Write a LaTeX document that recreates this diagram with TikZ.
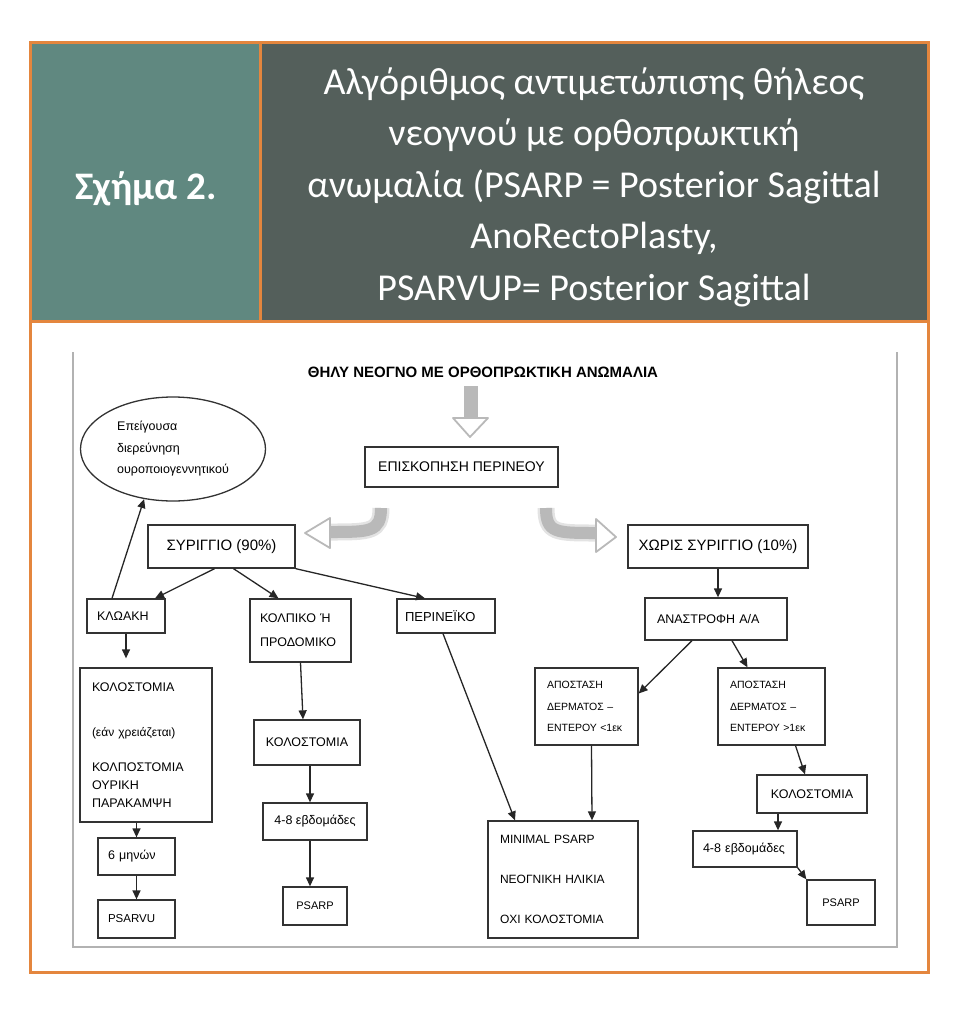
\documentclass[tikz,border=0pt]{standalone}
\usepackage{fontspec}
\setmainfont{Carlito}
\newfontfamily\diagfont{Liberation Sans}
\usetikzlibrary{arrows.meta,shapes.geometric}
\definecolor{frameorange}{RGB}{228,134,62}
\definecolor{tealcell}{RGB}{96,136,128}
\definecolor{slatecell}{RGB}{84,95,91}
\tikzset{
    box/.style={draw=black!80, line width=1.3pt, inner ysep=0pt, font=\diagfont\fontsize{12.5}{16}\selectfont},
    lbox/.style={box, align=left, inner xsep=10pt},
    cbox/.style={box, align=center, inner xsep=4pt},
    fsbig/.style={font=\diagfont\fontsize{15}{18}\selectfont},
    fssmall/.style={font=\diagfont\fontsize{10.5}{21.5}\selectfont},
    arr/.style={-{Triangle[length=9pt,width=8pt]}, line width=1.3pt, draw=black!85},
    bandback/.style={line width=17pt, draw=gray!22},
    band/.style={line width=12pt, draw=gray!55},
    headopen/.style={draw=gray!55, line width=1.8pt, fill=white, line join=round},
}
\begin{document}
\begin{tikzpicture}[x=1pt, y=-1pt]
    \useasboundingbox (0,0) rectangle (971,1012);
    % header
    \fill[tealcell] (30,42) rectangle (260,321);
    \fill[slatecell] (260,42) rectangle (928,321);
    \draw[frameorange, line width=3pt] (30,42) rectangle (928,972);
    \draw[frameorange, line width=3pt] (30,321) -- (928,321) (260,42) -- (260,321);
    \node[white, font=\bfseries\fontsize{39}{46}\selectfont] (fig) at (146,189) {Σχήμα 2.};
    \node[white, align=center, font=\fontsize{38}{51.5}\selectfont] (caption) at (594,187)
        {Αλγόριθμος αντιμετώπισης θήλεος\\νεογνού με ορθοπρωκτική\\ανωμαλία (PSARP = Posterior Sagittal\\AnoRectoPlasty,\\PSARVUP= Posterior Sagittal};
    % diagram frame
    \draw[gray!60, line width=2pt] (73,352) -- (73,947) -- (897,947) -- (897,352);
    \node[font=\diagfont\bfseries\fontsize{15}{18}\selectfont] (title) at (483,372) {ΘΗΛΥ ΝΕΟΓΝΟ ΜΕ ΟΡΘΟΠΡΩΚΤΙΚΗ ΑΝΩΜΑΛΙΑ};
    \node[cbox, font=\diagfont\fontsize{14}{17}\selectfont, minimum width=193pt, minimum height=40pt] (episk) at (461.5,467) {ΕΠΙΣΚΟΠΗΣΗ ΠΕΡΙΝΕΟΥ};
    \node[ellipse, draw=black!80, line width=1.3pt, minimum width=185pt, minimum height=104pt, inner sep=0pt, align=left,
        font=\diagfont\fontsize{12.5}{21.5}\selectfont] (ell) at (173,449) {Επείγουσα\\διερεύνηση\\ουροποιογεννητικού};
    \node[cbox, fsbig, minimum width=147pt, minimum height=43pt] (syr) at (221.5,546.5) {ΣΥΡΙΓΓΙΟ (90\%)};
    \node[cbox, fsbig, minimum width=180pt, minimum height=43pt] (xoris) at (718,546.5) {ΧΩΡΙΣ ΣΥΡΙΓΓΙΟ (10\%)};
    % left branches
    \node[lbox, text width=58pt, minimum height=34pt] (klo) at (126,616) {ΚΛΩΑΚΗ};
    \node[lbox, text width=81pt, minimum height=63pt, font=\diagfont\fontsize{12.5}{24}\selectfont] (kolp) at (300.5,630.5) {ΚΟΛΠΙΚΟ Ή\\ΠΡΟΔΟΜΙΚΟ};
    \node[lbox, inner xsep=8pt, text width=82pt, minimum height=34pt, font=\diagfont\fontsize{13}{16}\selectfont] (peri) at (446,616) {ΠΕΡΙΝΕΪΚΟ};
    \node[lbox, inner xsep=12pt, text width=108pt, minimum height=154pt, font=\diagfont\fontsize{12.5}{18}\selectfont] (kol1) at (146,745)
        {ΚΟΛΟΣΤΟΜΙΑ\\[27pt]{\fontsize{12}{18}\selectfont(εάν χρειάζεται)}\\[17pt]ΚΟΛΠΟΣΤΟΜΙΑ\\ΟΥΡΙΚΗ\\ΠΑΡΑΚΑΜΨΗ};
    \node[lbox, text width=57pt, minimum height=37pt] (mhn) at (136.5,856.5) {6 μηνών};
    \node[lbox, text width=57pt, minimum height=38pt, font=\diagfont\fontsize{11.5}{16}\selectfont] (psarvu) at (136.5,919) {PSARVU};
    \node[cbox, minimum width=106pt, minimum height=45pt] (kol2) at (307,742.5) {ΚΟΛΟΣΤΟΜΙΑ};
    \node[cbox, minimum width=104pt, minimum height=37pt] (ebd1) at (315,821.5) {4-8 εβδομάδες};
    \node[cbox, minimum width=64pt, minimum height=38pt, font=\diagfont\fontsize{11}{16}\selectfont] (psarp1) at (315,906) {PSARP};
    % right branches
    \node[lbox, inner xsep=12pt, text width=118pt, minimum height=42pt] (anas) at (716,619) {ΑΝΑΣΤΡΟΦΗ Α/Α};
    \node[lbox, inner xsep=12pt, text width=79pt, minimum height=77pt, fssmall] (apo1) at (586.5,706.5) {ΑΠΟΣΤΑΣΗ\\ΔΕΡΜΑΤΟΣ –\\ΕΝΤΕΡΟΥ <1εκ};
    \node[lbox, inner xsep=12pt, text width=83pt, minimum height=77pt, fssmall] (apo2) at (771.5,706.5) {ΑΠΟΣΤΑΣΗ\\ΔΕΡΜΑΤΟΣ –\\ΕΝΤΕΡΟΥ >1εκ};
    \node[lbox, inner xsep=12pt, text width=126pt, minimum height=117pt, font=\diagfont\fontsize{12}{40}\selectfont] (minimal) at (563,879.5) {MINIMAL PSARP\\ΝΕΟΓΝΙΚΗ ΗΛΙΚΙΑ\\ΟΧΙ ΚΟΛΟΣΤΟΜΙΑ};
    \node[cbox, minimum width=110pt, minimum height=38pt] (kol3) at (812,794) {ΚΟΛΟΣΤΟΜΙΑ};
    \node[lbox, text width=84pt, minimum height=36pt] (ebd2) at (745,849) {4-8 εβδομάδες};
    \node[cbox, minimum width=68pt, minimum height=45pt, font=\diagfont\fontsize{11}{16}\selectfont] (psarp2) at (841,902.5) {PSARP};
    % block arrows
    \coordinate (dntop) at (471,386);
    \coordinate (dnhead) at (471,418);
    \fill[gray!55] ([xshift=-7pt]dntop) rectangle ([xshift=7pt]dnhead);
    \draw[headopen] ([xshift=-18pt]dnhead) -- ([xshift=17pt]dnhead) -- (470,437) -- cycle;
    \coordinate (lbstart) at (381,508);
    \coordinate (lbend) at (330,532);
    \draw[bandback] (lbstart) .. controls (381,532) and (370,532) .. (lbend);
    \draw[band] (lbstart) .. controls (381,532) and (370,532) .. (lbend);
    \draw[headopen] (330,518) -- (305,533) -- (330,548) -- cycle;
    \coordinate (rbstart) at (546,508);
    \coordinate (rbend) at (596,533);
    \draw[bandback] (rbstart) .. controls (546,533) and (556,533) .. (rbend);
    \draw[band] (rbstart) .. controls (546,533) and (556,533) .. (rbend);
    \draw[headopen] (596,519) -- (616,537) -- (596,552) -- cycle;
    % connectors
    \draw[arr] ([xshift=-7pt]syr.south) -- ([xshift=29pt]klo.north);
    \draw[arr] ([xshift=12pt]syr.south) -- ([xshift=-22pt]kolp.north);
    \draw[arr] (syr.south east) -- ([xshift=-21pt]peri.north);
    \draw[arr] ([xshift=-14pt]klo.north) -- (ell.240);
    \draw[arr, shorten >=9pt] (klo.south) -- ([xshift=-20pt]kol1.north);
    \draw[arr] (mhn.north |- kol1.south) -- (mhn.north);
    \draw[arr] (mhn.south) -- (psarvu.north);
    \draw[arr] (kolp.south) -- ([xshift=-4pt]kol2.north);
    \draw[arr] ([xshift=3pt]kol2.south) -- ([xshift=-5pt]ebd1.north);
    \draw[arr] ([xshift=-5pt]ebd1.south) -- ([xshift=-5pt]psarp1.north);
    \draw[arr] ([xshift=-3pt]peri.south) -- ([xshift=-48pt]minimal.north);
    \draw[arr] (xoris.south) -- ([xshift=2pt]anas.north);
    \draw[arr] ([xshift=-24pt]anas.south) -- ([yshift=13pt]apo1.east);
    \draw[arr] ([xshift=16pt]anas.south) -- ([xshift=-24pt]apo2.north);
    \draw[arr] ([xshift=5pt]apo1.south) -- ([xshift=29pt]minimal.north);
    \draw[arr] ([xshift=24pt]apo2.south) -- ([xshift=-7pt]kol3.north);
    \draw[arr] ([xshift=-34pt]kol3.south) -- ([xshift=33pt]ebd2.north);
    \draw[arr] (ebd2.south east) -- (psarp2.north west);
\end{tikzpicture}
\end{document}
